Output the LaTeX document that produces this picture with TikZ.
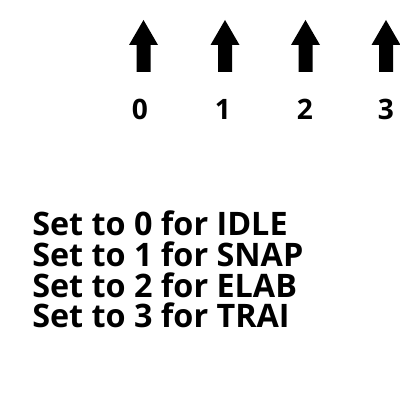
\documentclass[tikz,border=0pt]{standalone}
\usepackage{fontspec}
\setmainfont{Open Sans}
\begin{document}
\begin{tikzpicture}[x=0.025cm,y=-0.025cm,
  digit/.style={font=\bfseries\fontsize{20}{24}\selectfont,inner sep=0pt,anchor=base},
  line/.style={font=\bfseries\fontsize{23}{27}\selectfont,inner sep=0pt,anchor=base west},
  uparrow/.style={fill=black}]
\useasboundingbox (0,0) rectangle (400,400);
\foreach \cx/\n in {143.5/a0,225/a1,305.5/a2,386/a3}{
  \fill[uparrow] (\cx,20) -- (\cx+14.5,45) -- (\cx+7,45) -- (\cx+7,72) -- (\cx-7,72) -- (\cx-7,45) -- (\cx-14.5,45) -- cycle;
}
\node[digit] (d0) at (140,120) {0};
\node[digit] (d1) at (223,120) {1};
\node[digit] (d2) at (305,120) {2};
\node[digit] (d3) at (386,120) {3};
\node[line] (l0) at (32,235) {Set to 0 for IDLE};
\node[line] (l1) at (32,266) {Set to 1 for SNAP};
\node[line] (l2) at (32,297) {Set to 2 for ELAB};
\node[line] (l3) at (32,327) {Set to 3 for TRAI};
\end{tikzpicture}
\end{document}
